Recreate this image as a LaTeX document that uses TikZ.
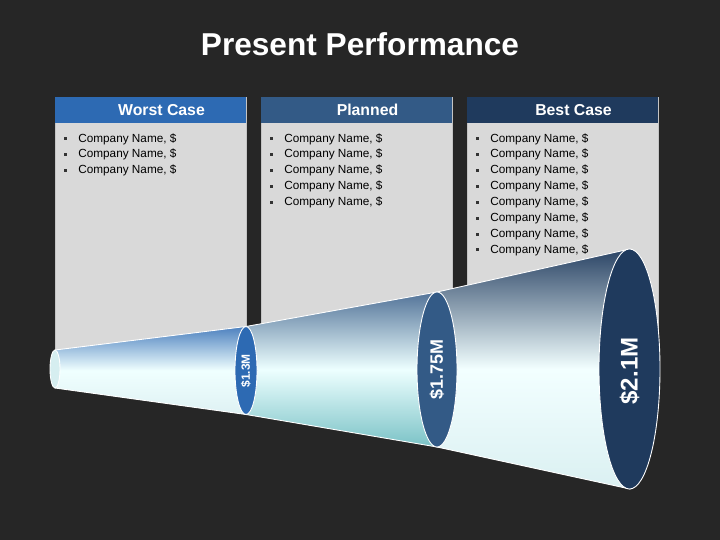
\documentclass[tikz,border=0pt]{standalone}
\usepackage{fontspec}
\setmainfont{Liberation Sans}
\usepackage{xcolor}
\usepackage{tikz}

\definecolor{bgdark}{HTML}{262626}
\definecolor{boxgrey}{HTML}{D9D9D9}
\definecolor{boxedge}{HTML}{C4C4C4}
\definecolor{worstblue}{HTML}{2D6AB3}
\definecolor{plannedblue}{HTML}{335A86}
\definecolor{bestblue}{HTML}{1F3A5D}
\definecolor{iceblue}{HTML}{D6EEF0}
\definecolor{tealblue}{HTML}{7AC2C6}

\tikzset{
  header/.style={font=\fontsize{9}{11}\selectfont\bfseries, text=white, inner sep=0pt},
  item/.style={font=\fontsize{6.7}{8}\selectfont, text=black, anchor=west, inner sep=0pt},
  value/.style={text=white, rotate=90, inner sep=0pt},
  cone/.style={draw=white, line width=0.5pt},
  rim/.style={draw=white, line width=0.5pt},
}

\begin{document}
\begin{tikzpicture}[x=0.02cm, y=-0.02cm]
% Background
\fill[bgdark] (0,0) rectangle (720,540);
\useasboundingbox (0,0) rectangle (720,540);
% Title
\node[font=\fontsize{18}{22}\selectfont\bfseries, text=white] (title) at (360,44) {Present Performance};
% Scenario boxes
\foreach \bx/\col/\name/\txt/\n in {55/worstblue/worst/Worst Case/3, 261/plannedblue/planned/Planned/5, 467/bestblue/best/Best Case/8}{
  \draw[boxedge, fill=boxgrey] (\bx,97) rectangle ++(191,265);
  \fill[\col] (\bx,97) rectangle ++(191,26);
  \node[header] (\name) at (\bx+106.5,110) {\txt};
  \foreach \i in {1,...,\n}{
    \fill[black!80] (\bx+8.5,{137.5+(\i-1)*15.85}) rectangle ++(3,3);
    \node[item] (\name-\i) at (\bx+23,{139+(\i-1)*15.85}) {Company Name, \$};
  }
}
% Cone segments
\shadedraw[cone, top color=worstblue!85!white, bottom color=iceblue!80!white, middle color=white!94!cyan]
  (55,350) -- (246,326.5) -- (246,414.5) -- (55,388) -- cycle;
\shadedraw[cone, top color=plannedblue!85!white, bottom color=tealblue, middle color=white!93!cyan]
  (246,326.5) -- (437,292) -- (437,447) -- (246,414.5) -- cycle;
\shadedraw[cone, top color=bestblue!95!white, bottom color=iceblue!90!white, middle color=white!95!cyan]
  (437,292) -- (630,249) -- (630,489) -- (437,447) -- cycle;
% Rims
\filldraw[rim, fill=iceblue] (55,369) ellipse [x radius=5, y radius=19];
\filldraw[rim, fill=worstblue] (246,370.5) ellipse [x radius=11, y radius=44];
\filldraw[rim, fill=plannedblue] (437,369.5) ellipse [x radius=20, y radius=77.5];
\filldraw[rim, fill=bestblue] (629.5,369) ellipse [x radius=30.5, y radius=120];
% Values
\node[value, font=\fontsize{6.8}{8}\selectfont\bfseries] (v13) at (246,371) {\$1.3M};
\node[value, font=\fontsize{10.2}{12}\selectfont\bfseries] (v175) at (437,369.5) {\$1.75M};
\node[value, font=\fontsize{13.7}{16}\selectfont\bfseries] (v21) at (629.5,371) {\$2.1M};
\end{tikzpicture}
\end{document}
